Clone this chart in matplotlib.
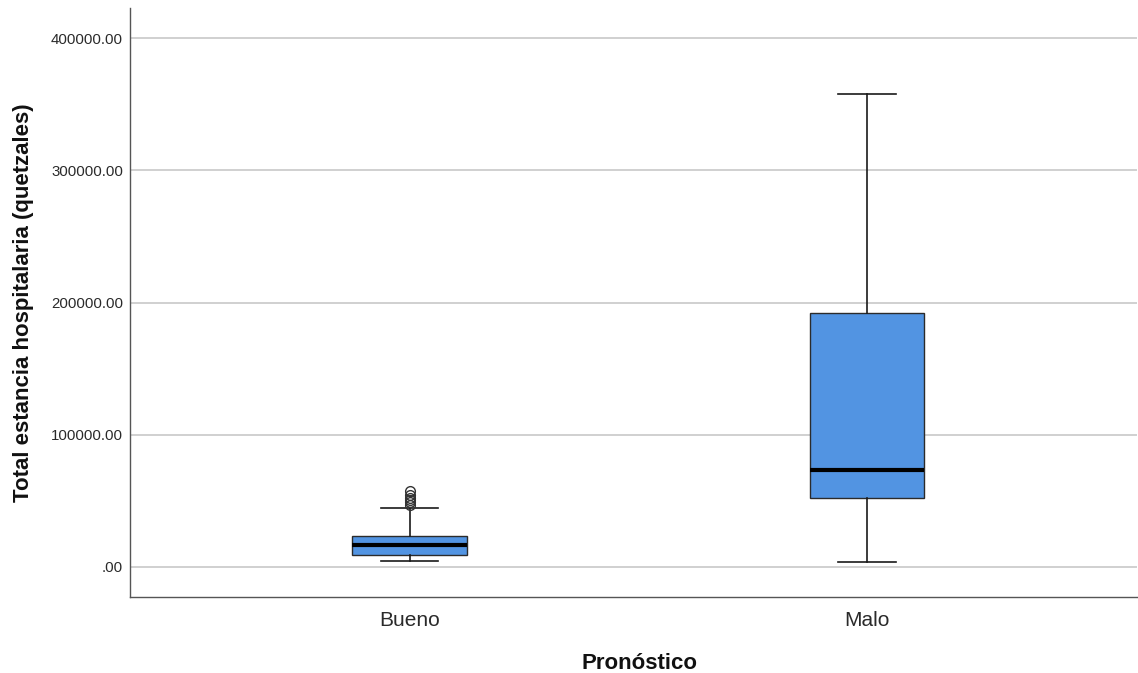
import matplotlib
matplotlib.use("Agg")
import matplotlib.pyplot as plt

categories = ["Bueno", "Malo"]
whisker_low = [4500, 3800]
q1 = [9100, 52200]
median = [16600, 73300]
q3 = [23400, 192000]
whisker_high = [44600, 357700]
outliers = [[57500, 54500, 52500, 50500, 48800, 47200], []]
y_ticks = [0, 100000, 200000, 300000, 400000]
y_tick_labels = [".00", "100000.00", "200000.00", "300000.00", "400000.00"]

plt.rcParams['font.family'] = ['Liberation Sans', 'DejaVu Sans']

fig = plt.figure(figsize=(11.38, 6.73), dpi=100)
ax = fig.add_axes([130/1138, 76/673, 1007/1138, 589/673])

stats = []
for i, c in enumerate(categories):
    stats.append(dict(label=c, whislo=whisker_low[i], q1=q1[i], med=median[i],
                      q3=q3[i], whishi=whisker_high[i], fliers=outliers[i]))

ax.set_axisbelow(True)
ax.yaxis.grid(True, color='#c8c8c8', linewidth=1.2)
ax.bxp(stats, positions=range(len(categories)), widths=0.25, patch_artist=True,
       boxprops=dict(facecolor='#5294e2', edgecolor='#2b2b2b', linewidth=1.0),
       medianprops=dict(color='black', linewidth=3),
       whiskerprops=dict(color='#1a1a1a', linewidth=1.2),
       capprops=dict(color='#1a1a1a', linewidth=1.2),
       capwidths=0.125,
       flierprops=dict(marker='o', markerfacecolor='none', markeredgecolor='#333333',
                       markersize=7, markeredgewidth=1.0))

ax.set_xlim(-0.611, 1.59)
ax.set_ylim(-22700, 422700)
ax.set_yticks(y_ticks)
ax.set_yticklabels(y_tick_labels, fontsize=10.8)
ax.set_xticks(range(len(categories)))
ax.set_xticklabels(categories, fontsize=15)
ax.tick_params(axis='both', length=0, colors='#2a2a2a')
ax.tick_params(axis='x', pad=10)
ax.tick_params(axis='y', pad=5)
for s in ['top', 'right']:
    ax.spines[s].set_visible(False)
for s in ['left', 'bottom']:
    ax.spines[s].set_color('#555555')
    ax.spines[s].set_linewidth(1.0)

ax.set_xlabel("Pronóstico", fontsize=16, fontweight='bold', color='#111111')
ax.xaxis.set_label_coords(0.506, -0.095)
ax.set_ylabel("Total estancia hospitalaria (quetzales)", fontsize=16, fontweight='bold', labelpad=12, color='#111111')

fig.savefig("out.png", dpi=100)
